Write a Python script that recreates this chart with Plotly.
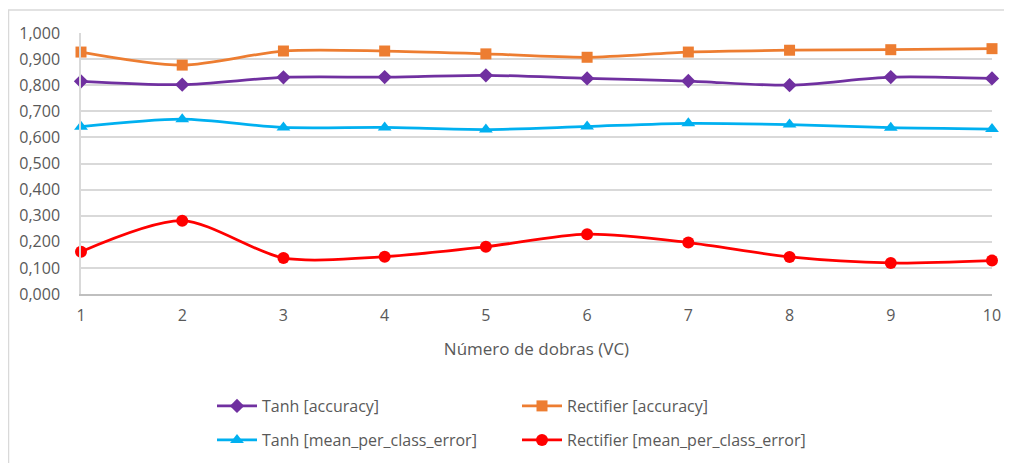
import plotly.graph_objects as go

folds = [1, 2, 3, 4, 5, 6, 7, 8, 9, 10]
tanh_acc = [0.815, 0.802, 0.830, 0.831, 0.838, 0.826, 0.816, 0.800, 0.831, 0.826]
rect_acc = [0.927, 0.877, 0.931, 0.931, 0.920, 0.907, 0.927, 0.934, 0.936, 0.940]
tanh_err = [0.641, 0.670, 0.638, 0.638, 0.630, 0.642, 0.654, 0.649, 0.637, 0.632]
rect_err = [0.162, 0.281, 0.138, 0.143, 0.181, 0.229, 0.197, 0.142, 0.119, 0.128]
y_ticks = [0.0, 0.1, 0.2, 0.3, 0.4, 0.5, 0.6, 0.7, 0.8, 0.9, 1.0]

series = [
    ("Tanh [accuracy]", tanh_acc, "#7030A0", "diamond", 11, "legend"),
    ("Rectifier [accuracy]", rect_acc, "#ED7D31", "square", 11, "legend"),
    ("Tanh [mean_per_class_error]", tanh_err, "#00B0F0", "triangle-up", 12, "legend2"),
    ("Rectifier [mean_per_class_error]", rect_err, "#FF0000", "circle", 12, "legend2"),
]

fig = go.Figure()
for name, vals, color, sym, size, leg in series:
    fig.add_trace(go.Scatter(
        x=folds, y=vals, name=name, mode="lines+markers",
        line=dict(color=color, width=2.75, shape="spline", smoothing=0.8),
        marker=dict(symbol=sym, size=size, color=color),
        cliponaxis=False, legend=leg,
    ))

font = "'Open Sans', Lato, sans-serif"
OFF = 8  # default page body margin
W, H = 1012 - OFF, 463 - OFF
# desired page-pixel positions of plot area
PL, PR, PT, PB = 81, 992, 33, 294
l, t = PL - OFF, PT - OFF
r = W - (PR - OFF)
b = H - (PB - OFF)
pw = W - l - r
ph = H - t - b

def px_x(p):
    return (p - OFF - l) / pw

def px_y(p):
    return (H - b - (p - OFF)) / ph

def cx(p):
    return (p - OFF) / W

def cy(p):
    return (H - (p - OFF)) / H

legend_common = dict(
    orientation="h", font=dict(family=font, size=16, color="#595959"),
    bgcolor="rgba(0,0,0,0)", entrywidth=250, entrywidthmode="pixels",
    xanchor="left", yanchor="middle", itemwidth=40,
    xref="container", yref="container",
)

fig.update_layout(
    width=W, height=H,
    margin=dict(l=l, r=r, t=t, b=b, autoexpand=False),
    paper_bgcolor="white", plot_bgcolor="white",
    separators=", ",
    font=dict(family=font, color="#595959"),
    showlegend=True,
    legend=dict(x=cx(212), y=cy(406), **legend_common),
    legend2=dict(x=cx(212), y=cy(440), **legend_common),
    xaxis=dict(
        range=[1, 10], tickmode="array", tickvals=folds,
        showgrid=False, zeroline=False,
        showline=True, linecolor="#BFBFBF", linewidth=1.5,
        tickfont=dict(family=font, size=16, color="#595959"),
        ticks="", ticklabelstandoff=6, automargin=False,
        title=dict(text="Número de dobras (VC)", font=dict(family=font, size=17, color="#595959"), standoff=18),
    ),
    yaxis=dict(
        range=[0, 1], tickmode="array", tickvals=y_ticks, tickformat=".3f",
        showgrid=True, gridcolor="#D9D9D9", gridwidth=1.5,
        zeroline=False, showline=True, linecolor="#D9D9D9", linewidth=1.5,
        tickfont=dict(family=font, size=16, color="#595959"),
        ticks="", ticklabelstandoff=16, automargin=False,
    ),
    shapes=[dict(
        type="rect", xref="paper", yref="paper",
        x0=px_x(8.5), x1=px_x(1040), y0=px_y(500), y1=px_y(10),
        line=dict(color="#D9D9D9", width=1.5), fillcolor="rgba(0,0,0,0)", layer="below",
    )],
)

fig.write_html("out.html")
